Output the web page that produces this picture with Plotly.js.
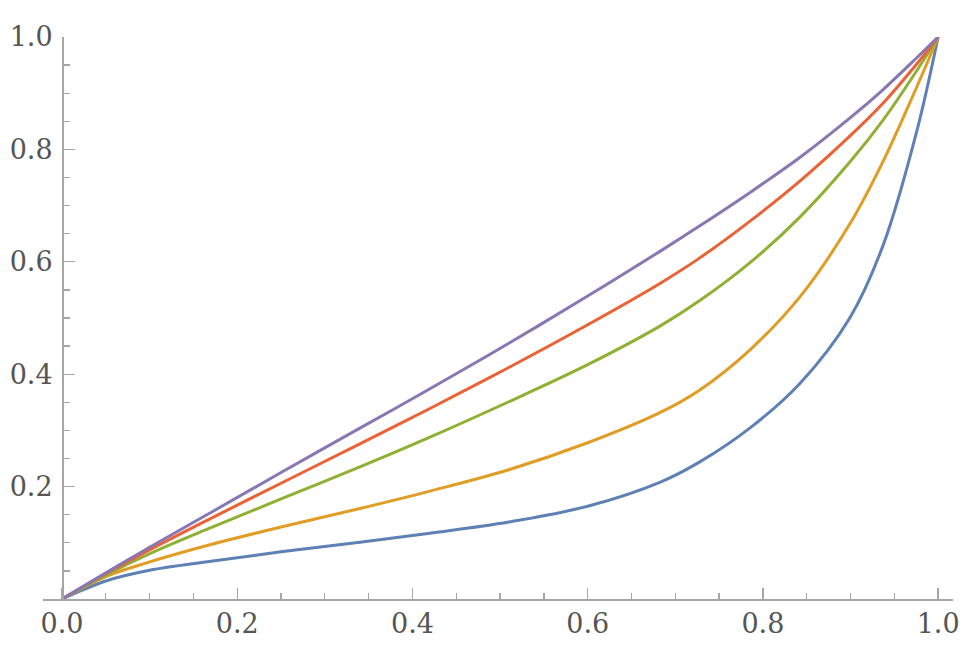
<!DOCTYPE html>
<html>
<head>
<meta charset="utf-8">
<script src="https://cdn.plot.ly/plotly-3.0.1.min.js"></script>
<style>html,body{margin:0;padding:0;background:#fff;}#chart{width:964px;height:655px;}</style>
</head>
<body>
<div id="chart"></div>
<script>
// Shared x positions
const xs = [0, 0.05, 0.1, 0.17, 0.25, 0.34, 0.42, 0.51, 0.6, 0.683, 0.728, 0.785, 0.8425, 0.8995, 0.9376, 0.9756, 1.0];

// Series values
const blue   = [0, 0.032, 0.051, 0.067, 0.084, 0.101, 0.117, 0.137, 0.165, 0.208, 0.244, 0.304, 0.384, 0.501, 0.631, 0.832, 1.0];
const orange = [0, 0.040, 0.066, 0.097, 0.128, 0.161, 0.192, 0.230, 0.278, 0.332, 0.372, 0.443, 0.538, 0.668, 0.780, 0.911, 1.0];
const green  = [0, 0.0425, 0.0805, 0.127, 0.178, 0.235, 0.288, 0.351, 0.417, 0.486, 0.531, 0.598, 0.680, 0.778, 0.853, 0.940, 1.0];
const red    = [0, 0.045, 0.0875, 0.1435, 0.206, 0.276, 0.339, 0.412, 0.488, 0.562, 0.607, 0.672, 0.744, 0.824, 0.883, 0.952, 1.0];
const purple = [0, 0.0465, 0.092, 0.154, 0.225, 0.304, 0.374, 0.455, 0.539, 0.619, 0.664, 0.723, 0.786, 0.856, 0.907, 0.963, 1.0];

const seriesList = [blue, orange, green, red, purple];
const colors = ['#5E81B5', '#E19C24', '#8FB032', '#EB6235', '#8778B3'];

const xTickVals = [0, 0.2, 0.4, 0.6, 0.8, 1.0];
const xTickText = ['0.0', '0.2', '0.4', '0.6', '0.8', '1.0'];
const yTickVals = [0.2, 0.4, 0.6, 0.8, 1.0];
const yTickText = ['0.2', '0.4', '0.6', '0.8', '1.0'];

const traces = seriesList.map((ys, i) => ({
  type: 'scatter', mode: 'lines', x: xs, y: ys,
  line: {color: colors[i], width: 3, shape: 'spline', smoothing: 1},
  hoverinfo: 'skip', showlegend: false
}));

const axisColor = '#a6a6a6';
const tickFont = {family: 'DejaVu Serif', size: 27, color: '#555555'};

const layout = {
  width: 964, height: 655,
  margin: {l: 43, r: 11, t: 37, b: 56, pad: 0},
  paper_bgcolor: '#ffffff', plot_bgcolor: '#ffffff',
  showlegend: false,
  xaxis: {
    range: [-0.0217, 1.017], showgrid: false, zeroline: false,
    showline: true, linecolor: axisColor, linewidth: 1.6,
    ticks: 'inside', ticklen: 11, tickwidth: 1.3, tickcolor: axisColor,
    tickvals: xTickVals, ticktext: xTickText, tickfont: tickFont,
    ticklabelstandoff: 0,
    minor: {dtick: 0.05, tick0: 0, ticks: 'inside', ticklen: 6, tickwidth: 1.3, tickcolor: axisColor, showgrid: false}
  },
  yaxis: {
    range: [0, 1], showgrid: false, zeroline: false,
    anchor: 'free', position: (0 + 0.0217) / (1.017 + 0.0217),
    showline: true, linecolor: axisColor, linewidth: 1.6,
    ticks: 'inside', ticklen: 11, tickwidth: 1.3, tickcolor: axisColor,
    tickvals: yTickVals, ticktext: yTickText, tickfont: tickFont,
    ticklabelstandoff: 4,
    minor: {dtick: 0.05, tick0: 0, ticks: 'inside', ticklen: 6, tickwidth: 1.3, tickcolor: axisColor, showgrid: false}
  }
};

Plotly.newPlot('chart', traces, layout, {staticPlot: true, displayModeBar: false});
</script>
</body>
</html>
